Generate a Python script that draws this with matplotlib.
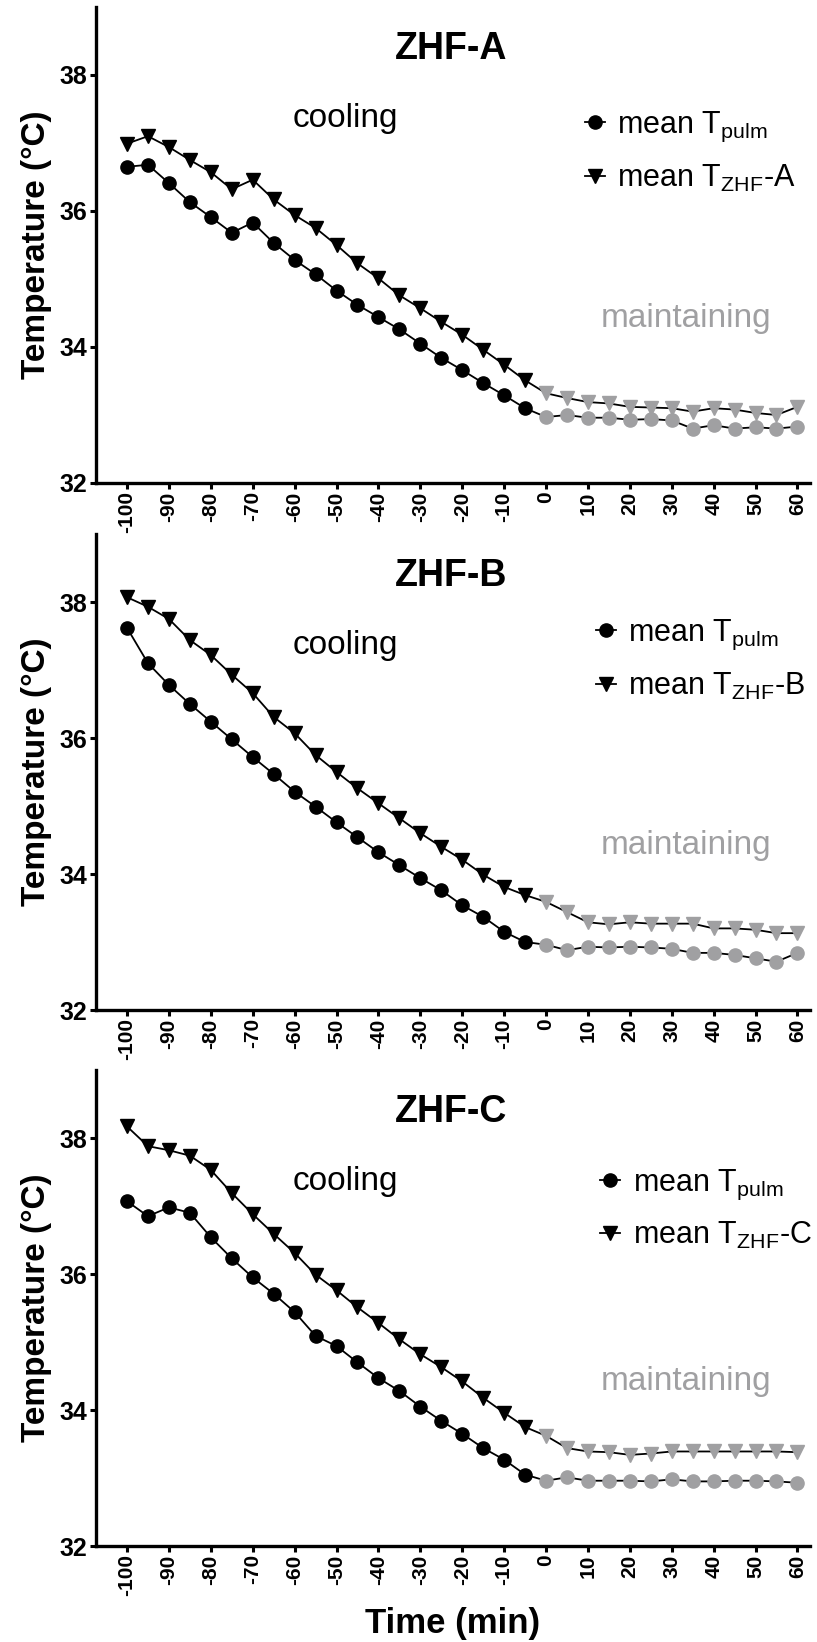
import matplotlib
matplotlib.use("Agg")
import matplotlib.pyplot as plt
from matplotlib.lines import Line2D
import numpy as np

plt.rcParams['font.family'] = ['Liberation Sans', 'DejaVu Sans']
plt.rcParams['mathtext.fontset'] = 'custom'
plt.rcParams['mathtext.rm'] = 'Liberation Sans'
plt.rcParams['mathtext.it'] = 'Liberation Sans:italic'
plt.rcParams['mathtext.bf'] = 'Liberation Sans:bold'

# time points (min), cooling phase < 0, maintaining phase >= 0
times = [-100, -95, -90, -85, -80, -75, -70, -65, -60, -55, -50, -45, -40, -35,
         -30, -25, -20, -15, -10, -5, 0, 5, 10, 15, 20, 25, 30, 35, 40, 45, 50,
         55, 60]
xticks = [-100, -90, -80, -70, -60, -50, -40, -30, -20, -10, 0, 10, 20, 30, 40, 50, 60]
yticks = [32, 34, 36, 38]

# mean pulmonary artery temperature
pulm_a = [36.65, 36.68, 36.41, 36.13, 35.91, 35.68, 35.83, 35.53, 35.28, 35.07, 34.83,
          34.62, 34.44, 34.26, 34.05, 33.84, 33.66, 33.47, 33.29, 33.10, 32.97, 33.00,
          32.96, 32.96, 32.93, 32.94, 32.92, 32.80, 32.85, 32.80, 32.82, 32.80, 32.83]
pulm_b = [37.62, 37.10, 36.78, 36.50, 36.24, 35.98, 35.72, 35.47, 35.21, 34.99, 34.76,
          34.54, 34.32, 34.13, 33.94, 33.76, 33.54, 33.37, 33.15, 33.00, 32.96, 32.88,
          32.93, 32.92, 32.93, 32.92, 32.90, 32.84, 32.84, 32.81, 32.76, 32.71, 32.84]
pulm_c = [37.07, 36.85, 36.98, 36.90, 36.54, 36.23, 35.95, 35.71, 35.44, 35.09, 34.94,
          34.70, 34.47, 34.28, 34.05, 33.84, 33.65, 33.44, 33.27, 33.05, 32.96, 33.01,
          32.96, 32.96, 32.96, 32.95, 32.98, 32.95, 32.95, 32.96, 32.96, 32.95, 32.93]

# mean zero-heat-flux temperature
zhf_a = [36.99, 37.10, 36.94, 36.75, 36.57, 36.32, 36.46, 36.17, 35.94, 35.75, 35.50,
         35.23, 35.01, 34.76, 34.57, 34.37, 34.18, 33.96, 33.74, 33.51, 33.32, 33.25,
         33.19, 33.17, 33.12, 33.11, 33.10, 33.05, 33.10, 33.08, 33.03, 33.00, 33.12]
zhf_b = [38.07, 37.93, 37.75, 37.44, 37.22, 36.93, 36.66, 36.31, 36.07, 35.75, 35.50,
         35.26, 35.04, 34.82, 34.60, 34.40, 34.21, 33.99, 33.81, 33.69, 33.59, 33.44,
         33.29, 33.26, 33.29, 33.27, 33.27, 33.27, 33.20, 33.20, 33.18, 33.13, 33.13]
zhf_c = [38.17, 37.88, 37.82, 37.74, 37.53, 37.19, 36.88, 36.59, 36.31, 35.99, 35.76,
         35.51, 35.28, 35.04, 34.82, 34.63, 34.42, 34.18, 33.96, 33.75, 33.62, 33.44,
         33.39, 33.38, 33.34, 33.36, 33.39, 33.39, 33.39, 33.39, 33.39, 33.39, 33.38]

panels = [("ZHF-A", pulm_a, zhf_a), ("ZHF-B", pulm_b, zhf_b), ("ZHF-C", pulm_c, zhf_c)]

GREY = '#a0a0a2'
H = 476 / 1642
bottoms = [1 - 483 / 1642, 1 - 1010 / 1642, 1 - 1546 / 1642]
legend_y = [36.87, 37.15, 36.95]
legend_x = [9.3, 12.0, 13.0]

fig = plt.figure(figsize=(8.17, 16.42), dpi=100)

t = np.array(times)
cool = t < 0
maint = t >= 0

for i, (name, pulm, zhf) in enumerate(panels):
    ax = fig.add_axes([96 / 817, bottoms[i], 714 / 817, H])
    pulm = np.array(pulm)
    zhf = np.array(zhf)

    ax.plot(t, zhf, '-', color='k', lw=1.3, zorder=2)
    ax.plot(t, pulm, '-', color='k', lw=1.3, zorder=2)
    ax.plot(t[cool], zhf[cool], 'v', color='k', ms=10.5, zorder=3)
    ax.plot(t[maint], zhf[maint], 'v', color=GREY, ms=10.5, zorder=3)
    ax.plot(t[cool], pulm[cool], 'o', color='k', ms=9.5, zorder=3)
    ax.plot(t[maint], pulm[maint], 'o', color=GREY, ms=9.5, zorder=3)

    ax.set_xlim(-107.4, 63)
    ax.set_ylim(32, 39)
    ax.set_xticks(xticks)
    ax.set_yticks(yticks)
    ax.set_xticklabels([str(v) for v in xticks], rotation=90, fontsize=15, fontweight='bold')
    ax.set_yticklabels([str(v) for v in yticks], fontsize=18, fontweight='bold')
    ax.tick_params(axis='both', width=2.2, length=4.5, pad=1.5, direction='out')
    for s in ['top', 'right']:
        ax.spines[s].set_visible(False)
    for s in ['left', 'bottom']:
        ax.spines[s].set_linewidth(2.4)

    ax.set_ylabel('Temperature (°C)', fontsize=24, fontweight='bold', labelpad=6)

    ax.text(-22.7, 38.38, name, fontsize=27, fontweight='bold', ha='center', va='center')
    ax.text(-48, 37.36, 'cooling', fontsize=24, ha='center', va='center')
    ax.text(33.4, 34.42, 'maintaining', fontsize=24, ha='center', va='center', color=GREY)

    handles = [Line2D([], [], color='k', lw=1.3, marker='o', ms=9.5),
               Line2D([], [], color='k', lw=1.3, marker='v', ms=10.5)]
    labels = [r'mean T$_{\mathrm{pulm}}$', r'mean T$_{\mathrm{ZHF}}$-' + name[-1]]
    ax.legend(handles, labels, loc='center left', bbox_to_anchor=(legend_x[i], legend_y[i]),
              bbox_transform=ax.transData, frameon=False, fontsize=22,
              handlelength=0.65, handletextpad=0.4, labelspacing=0.6,
              borderpad=0, borderaxespad=0)

    if i == 2:
        ax.set_xlabel('Time (min)', fontsize=25, fontweight='bold', labelpad=8)

fig.savefig('out.png', dpi=100)
